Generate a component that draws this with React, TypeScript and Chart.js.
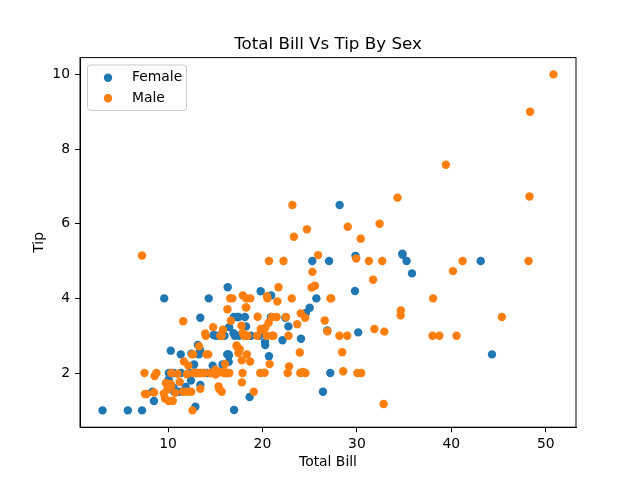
import React, { useEffect, useRef } from 'react';
import { Chart, registerables } from 'chart.js';

Chart.register(...registerables);

// tips dataset: [total_bill, tip]
const femaleBill = [16.99, 24.59, 35.26, 14.83, 10.33, 16.97, 20.29, 15.77, 19.65, 15.06, 20.69, 16.93, 10.29, 34.81, 26.41, 16.45, 3.07, 17.07, 26.86, 25.28, 14.73, 10.07, 34.83, 5.75, 16.32, 22.75, 11.35, 15.38, 44.3, 22.42, 20.92, 14.31, 7.25, 25.71, 17.31, 10.65, 12.43, 24.08, 13.42, 12.48, 29.8, 14.52, 11.38, 20.27, 11.17, 12.26, 18.26, 8.51, 10.33, 14.15, 13.16, 17.47, 27.05, 16.43, 8.35, 18.64, 11.87, 29.85, 25.0, 13.39, 16.21, 17.51, 10.59, 10.63, 9.6, 20.9, 18.15, 19.81, 43.11, 13.0, 12.74, 13.0, 16.4, 16.47, 12.76, 13.27, 28.17, 12.9, 30.14, 13.42, 15.98, 16.27, 10.09, 22.12, 35.83, 27.18, 18.78];
const femaleTip = [1.01, 3.61, 5.0, 3.02, 1.67, 3.5, 2.75, 2.23, 3.0, 3.0, 2.45, 3.07, 2.6, 5.2, 1.5, 2.47, 1.0, 3.0, 3.14, 5.0, 2.2, 1.83, 5.17, 1.0, 4.3, 3.25, 2.5, 3.0, 2.5, 3.48, 4.08, 4.0, 1.0, 4.0, 3.5, 1.5, 1.8, 2.92, 1.68, 2.52, 4.2, 2.0, 2.0, 2.83, 1.5, 2.0, 3.25, 1.25, 2.0, 2.0, 2.75, 3.5, 5.0, 2.3, 1.5, 1.36, 1.63, 5.14, 3.75, 2.61, 2.0, 3.0, 1.61, 2.0, 4.0, 3.5, 3.5, 4.19, 5.0, 2.0, 2.01, 2.0, 2.5, 3.23, 2.23, 2.5, 6.5, 1.1, 3.09, 3.48, 3.0, 2.5, 2.0, 2.88, 4.67, 2.0, 3.0];

const maleBill = [10.34, 21.01, 23.68, 25.29, 8.77, 26.88, 15.04, 14.78, 10.27, 15.42, 18.43, 21.58, 16.29, 20.65, 17.92, 39.42, 19.82, 17.81, 13.37, 12.69, 21.7, 9.55, 18.35, 17.78, 24.06, 16.31, 18.69, 31.27, 16.04, 17.46, 13.94, 9.68, 30.4, 18.29, 22.23, 32.4, 28.55, 18.04, 12.54, 9.94, 25.56, 19.49, 38.01, 11.24, 48.27, 20.29, 13.81, 11.02, 18.29, 17.59, 20.08, 20.23, 15.01, 12.02, 10.51, 17.92, 27.2, 22.76, 17.29, 19.44, 16.66, 32.68, 15.98, 13.03, 18.28, 24.71, 21.16, 28.97, 22.49, 40.17, 27.28, 12.03, 21.01, 12.46, 15.36, 20.49, 25.21, 18.24, 14.0, 38.07, 23.95, 29.93, 11.69, 14.26, 15.95, 8.52, 22.82, 19.08, 16.0, 34.3, 41.19, 9.78, 7.51, 14.07, 13.13, 17.26, 24.55, 19.77, 48.17, 16.49, 21.5, 12.66, 13.81, 24.52, 20.76, 31.71, 50.81, 15.81, 7.25, 31.85, 16.82, 32.9, 17.89, 14.48, 34.63, 34.65, 23.33, 45.35, 23.17, 40.55, 20.69, 30.46, 23.1, 15.69, 28.44, 15.48, 16.58, 7.56, 10.34, 13.51, 18.71, 20.53, 26.59, 38.73, 24.27, 30.06, 25.89, 48.33, 28.15, 11.59, 7.74, 12.16, 8.58, 13.42, 20.45, 13.28, 24.01, 15.69, 11.61, 10.77, 15.53, 10.07, 12.6, 32.83, 29.03, 22.67, 17.82];
const maleTip = [1.66, 3.5, 3.31, 4.71, 2.0, 3.12, 1.96, 3.23, 1.71, 1.57, 3.0, 3.92, 3.71, 3.35, 4.08, 7.58, 3.18, 2.34, 2.0, 2.0, 4.3, 1.45, 2.5, 3.27, 3.6, 2.0, 2.31, 5.0, 2.24, 2.54, 3.06, 1.32, 5.6, 3.0, 5.0, 6.0, 2.05, 3.0, 2.5, 1.56, 4.34, 3.51, 3.0, 1.76, 6.73, 3.21, 2.0, 1.98, 3.76, 2.64, 3.15, 2.01, 2.09, 1.97, 1.25, 3.08, 4.0, 3.0, 2.71, 3.0, 3.4, 5.0, 2.03, 2.0, 4.0, 5.85, 3.0, 3.0, 3.5, 4.73, 4.0, 1.5, 3.0, 1.5, 1.64, 4.06, 4.29, 3.76, 3.0, 4.0, 2.55, 5.07, 2.31, 2.5, 2.0, 1.48, 2.18, 1.5, 2.0, 6.7, 5.0, 1.73, 2.0, 2.5, 2.0, 2.74, 2.0, 2.0, 5.0, 2.0, 3.5, 2.5, 2.0, 3.48, 2.24, 4.5, 10.0, 3.16, 5.15, 3.18, 4.0, 3.11, 2.0, 2.0, 3.55, 3.68, 5.65, 3.5, 6.5, 3.0, 5.0, 2.0, 4.0, 1.5, 2.56, 2.02, 4.0, 1.44, 2.0, 2.0, 4.0, 4.0, 3.41, 3.0, 2.03, 2.0, 5.16, 9.0, 3.0, 1.5, 1.44, 2.2, 1.92, 1.58, 3.0, 2.72, 2.0, 3.0, 3.39, 1.47, 3.0, 1.25, 1.0, 1.17, 5.92, 2.0, 1.75];

const xTicks = [10, 20, 30, 40, 50];
const yTicks = [2, 4, 6, 8, 10];
const chartTitle = 'Total Bill Vs Tip By Sex';

const FONT = 'DejaVu Sans';

// matplotlib-like frame, title over the plot area and legend inside it
const frameAndLegend = {
  id: 'frameAndLegend',
  afterDraw(chart: any) {
    const { ctx, chartArea } = chart;
    ctx.save();
    ctx.strokeStyle = '#000';
    ctx.lineWidth = 1;
    ctx.strokeRect(chartArea.left, chartArea.top, chartArea.right - chartArea.left, chartArea.bottom - chartArea.top);

    ctx.fillStyle = '#000';
    ctx.font = `16.7px ${FONT}`;
    ctx.textAlign = 'center';
    ctx.textBaseline = 'alphabetic';
    ctx.fillText(chartTitle, (chartArea.left + chartArea.right) / 2, chartArea.top - 8.3);

    // legend box
    const bx = 87.5, by = 65, bw = 99, bh = 45.5, r = 3;
    ctx.beginPath();
    ctx.moveTo(bx + r, by);
    ctx.arcTo(bx + bw, by, bx + bw, by + bh, r);
    ctx.arcTo(bx + bw, by + bh, bx, by + bh, r);
    ctx.arcTo(bx, by + bh, bx, by, r);
    ctx.arcTo(bx, by, bx + bw, by, r);
    ctx.closePath();
    ctx.fillStyle = 'rgba(255,255,255,0.8)';
    ctx.fill();
    ctx.strokeStyle = '#cccccc';
    ctx.stroke();

    ctx.font = `13.9px ${FONT}`;
    ctx.textAlign = 'left';
    ctx.textBaseline = 'middle';
    chart.data.datasets.forEach((ds: any, i: number) => {
      const y = 77.7 + i * 20.6;
      ctx.beginPath();
      ctx.arc(108, y, 4.2, 0, Math.PI * 2);
      ctx.fillStyle = ds.backgroundColor;
      ctx.fill();
      ctx.fillStyle = '#000';
      ctx.fillText(ds.label, 132, y);
    });
    ctx.restore();
  },
};

const App: React.FC = () => {
  const canvasRef = useRef<HTMLCanvasElement | null>(null);

  useEffect(() => {
    document.body.style.margin = '0';
    if (!canvasRef.current) return;
    const ctx = canvasRef.current.getContext('2d');
    if (!ctx) return;

    const chart = new Chart(ctx, {
      type: 'scatter',
      data: {
        datasets: [
          {
            label: 'Female',
            data: femaleBill.map((x, i) => ({ x, y: femaleTip[i] })),
            backgroundColor: '#1f77b4',
            borderWidth: 0,
            pointRadius: 4.2,
            pointHoverRadius: 4.2,
            order: 1,
          },
          {
            label: 'Male',
            data: maleBill.map((x, i) => ({ x, y: maleTip[i] })),
            backgroundColor: '#ff7f0e',
            borderWidth: 0,
            pointRadius: 4.2,
            pointHoverRadius: 4.2,
            order: 0,
          },
        ],
      },
      options: {
        responsive: false,
        animation: false,
        layout: { padding: { left: 0, right: 64, top: 57.6, bottom: 0 } },
        plugins: {
          legend: { display: false },
          tooltip: { enabled: false },
          title: { display: false },
        },
        scales: {
          x: {
            type: 'linear',
            min: 0.683,
            max: 53.197,
            afterBuildTicks: (s: any) => { s.ticks = xTicks.map((v) => ({ value: v })); },
            afterFit: (s: any) => { s.height = 52.8; },
            grid: { display: true, drawOnChartArea: false, drawTicks: true, tickLength: 5, tickColor: '#000', color: '#000' },
            border: { display: true, color: '#000' },
            ticks: { color: '#000', padding: 4, font: { family: FONT, size: 13.9 }, maxRotation: 0 },
            title: { display: true, text: 'Total Bill', color: '#000', font: { family: FONT, size: 13.9 }, padding: { top: 4, bottom: 9.5 } },
          },
          y: {
            type: 'linear',
            min: 0.55,
            max: 10.45,
            afterBuildTicks: (s: any) => { s.ticks = yTicks.map((v) => ({ value: v })); },
            afterFit: (s: any) => { s.width = 80; },
            grid: { display: true, drawOnChartArea: false, drawTicks: true, tickLength: 5, tickColor: '#000', color: '#000' },
            border: { display: true, color: '#000' },
            ticks: { color: '#000', padding: 5, font: { family: FONT, size: 13.9 } },
            title: { display: true, text: 'Tip', color: '#000', font: { family: FONT, size: 13.9 }, padding: { top: 31.5, bottom: 4 } },
          },
        },
      },
      plugins: [frameAndLegend],
    });

    return () => {
      chart.destroy();
    };
  }, []);

  return (
    <div style={{ width: 640, height: 480 }}>
      <canvas ref={canvasRef} width={640} height={480} />
    </div>
  );
};

export default App;
